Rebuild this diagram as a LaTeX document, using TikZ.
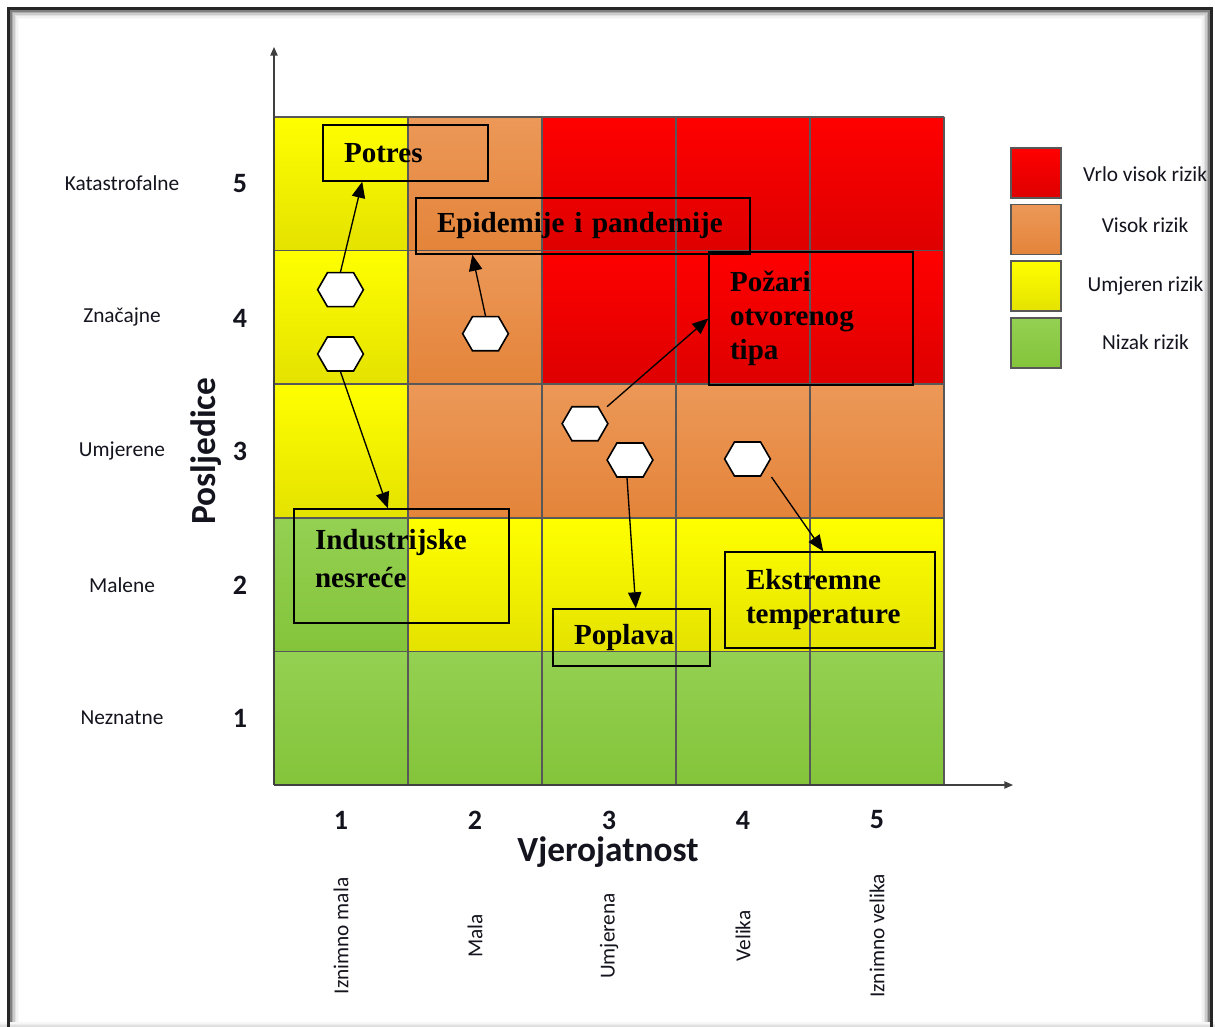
\documentclass[tikz,border=0pt]{standalone}
\usepackage{fontspec}
\setmainfont{Liberation Serif}
\newfontfamily\calibfont{Carlito}
\usetikzlibrary{arrows.meta,shapes.symbols,calc}
\definecolor{rtop}{RGB}{255,0,0}
\definecolor{rbot}{RGB}{222,0,0}
\definecolor{otop}{RGB}{236,152,88}
\definecolor{obot}{RGB}{228,132,58}
\definecolor{ytop}{RGB}{255,255,0}
\definecolor{ybot}{RGB}{228,226,0}
\definecolor{gtop}{RGB}{148,208,82}
\definecolor{gbot}{RGB}{132,196,58}
\definecolor{gridc}{RGB}{88,88,88}
\definecolor{axisc}{RGB}{64,64,64}
\definecolor{labc}{RGB}{20,20,30}
\begin{document}
\begin{tikzpicture}[x=0.75pt,y=-0.75pt,
  cellR/.style={top color=rtop,bottom color=rbot},
  cellO/.style={top color=otop,bottom color=obot},
  cellY/.style={top color=ytop,bottom color=ybot},
  cellG/.style={top color=gtop,bottom color=gbot},
  gridline/.style={draw=gridc,line width=1.1pt},
  axisline/.style={draw=axisc,line width=1pt,-{Triangle[length=6.5pt,width=5.5pt]}},
  lab/.style={font=\calibfont\fontsize{16}{19}\selectfont,text=labc,inner sep=0pt},
  num/.style={font=\calibfont\bfseries\fontsize{21}{24}\selectfont,text=labc,inner sep=0pt},
  axtitle/.style={font=\calibfont\bfseries\fontsize{26.5}{30}\selectfont,text=labc,inner sep=0pt},
  tbox/.style={draw=black,line width=1.1pt,align=left,inner xsep=15.75pt,inner ysep=0pt,
    font=\bfseries\fontsize{21.8}{25.5}\selectfont},
  hexa/.style={signal,signal to=east and west,signal pointer angle=120,draw=black,fill=white,
    line width=1.2pt,minimum width=34.3pt,minimum height=25.5pt,inner sep=0pt},
  arr/.style={draw=black,line width=1pt,-{Triangle[length=12pt,width=10pt]}},
  legbox/.style={draw=gridc,line width=1.1pt,minimum size=37.5pt,inner sep=0pt},
  frameline/.style={line width=1.2pt}
]
\useasboundingbox (0,0) rectangle (1215,1027);
\clip (0,0) rectangle (1215,1027);
\fill[white] (0,0) rectangle (1215,1027);

% frame with inner shadow
\foreach \d/\s in {11/50,12.5/32,14/20,15.5/11,17/5,18.5/2}{
  \draw[black!\s,frameline] (\d,1040) -- (\d,\d) -- (1220-\d,\d) -- (1220-\d,1040);
}
\foreach \d/\s in {1/12,2.5/7,4/3}{
  \draw[black!\s,frameline] (0,1027-\d) -- (1215,1027-\d);
}
\draw[black!85,line width=2.4pt] (8.8,1040) -- (8.8,8.8) -- (1211.5,8.8) -- (1211.5,1040);

% cells
\foreach \rowcols [count=\r from 0] in {{Y,O,R,R,R},{Y,O,R,R,R},{Y,O,O,O,O},{G,Y,Y,Y,Y},{G,G,G,G,G}}{
  \foreach \cc [count=\k from 0] in \rowcols {
    \path[cell\cc] (274+134*\k,117+133.6*\r) rectangle ++(134,133.6);
  }
}
\foreach \k in {0,...,5} \draw[gridline] (274+134*\k,117) -- (274+134*\k,785);
\foreach \r in {0,...,5} \draw[gridline] (274,117+133.6*\r) -- (944,117+133.6*\r);

% axes
\coordinate (O) at (274,785);
\coordinate (ytip) at (274,47);
\coordinate (xtip) at (1013,785);
\draw[axisline] (O) -- (ytip);
\draw[axisline] (O) -- (xtip);

% row labels
\node[lab] (l5) at (122,183) {Katastrofalne};
\node[lab] (l4) at (122,317) {Značajne};
\node[lab] (l3) at (122,451) {Umjerene};
\node[lab] (l2) at (122,585) {Malene};
\node[lab] (l1) at (122,718) {Neznatne};
\node[num] (n5) at (240,184) {5};
\node[num] (n4) at (240,318) {4};
\node[num] (n3) at (240,451) {3};
\node[num] (n2) at (240,585) {2};
\node[num] (n1) at (240,718) {1};
\node[axtitle,rotate=90] (ylab) at (206,451) {Posljedice};

% column labels
\node[num] (c1) at (341,820) {1};
\node[num] (c2) at (475,820) {2};
\node[num] (c3) at (609,820) {3};
\node[num] (c4) at (743,820) {4};
\node[num] (c5) at (877,820) {5};
\node[axtitle] (xlab) at (608,852) {Vjerojatnost};
\node[lab,rotate=90] (p1) at (341,936) {Iznimno mala};
\node[lab,rotate=90] (p2) at (475,936) {Mala};
\node[lab,rotate=90] (p3) at (609,936) {Umjerena};
\node[lab,rotate=90] (p4) at (743,936) {Velika};
\node[lab,rotate=90] (p5) at (877,936) {Iznimno velika};

% legend
\node[legbox,cellR] (kR) at (1036,173) {};
\node[legbox,cellO] (kO) at (1036,229.5) {};
\node[legbox,cellY] (kY) at (1036,286) {};
\node[legbox,cellG] (kG) at (1036,343) {};
\node[lab] (tR) at (1145,174) {Vrlo visok rizik};
\node[lab] (tO) at (1145,225) {Visok rizik};
\node[lab] (tY) at (1145.5,286) {Umjeren rizik};
\node[lab] (tG) at (1145.5,342) {Nizak rizik};

% text boxes
\node[tbox,text width=92.25pt,minimum height=42pt] (potres) at (405.5,153) {Potres};
\node[tbox,text width=219pt,minimum height=42pt] (epid) at (583,226) {Epidemije i pandemije};
\node[tbox,text width=121.5pt,minimum height=99.75pt] (pozari) at (811,318.5) {Požari\\otvorenog\\tipa};
\node[tbox,text width=129.75pt,minimum height=85.5pt,font=\bfseries\fontsize{21.8}{28.5}\selectfont] (indus) at (401.5,566) {Industrijske\\nesreće\rule[-12pt]{0pt}{1pt}};
\node[tbox,text width=126pt,minimum height=72pt] (ekstr) at (830,600) {Ekstremne\\temperature};
\node[tbox,text width=86.25pt,minimum height=42.75pt] (poplava) at (631.5,637.5) {Poplava};

% hexagons
\node[hexa] (h1) at (340.5,289.7) {};
\node[hexa] (h2) at (340.5,354) {};
\node[hexa] (h3) at (485.5,333.7) {};
\node[hexa] (h4) at (585,423.7) {};
\node[hexa] (h5) at (630,460) {};
\node[hexa] (h6) at (747.5,459) {};

% arrows
\draw[arr] (h1.north) -- ($(potres.south west)!0.24!(potres.south east)$);
\draw[arr] (h3.north) -- ($(epid.south west)!0.17!(epid.south east)$);
\draw[arr] (h2.south) -- ($(indus.north west)!0.437!(indus.north east)$);
\draw[arr] ($(h4.center)+(22,-17)$) -- (pozari.west);
\draw[arr] ($(h5.south)+(-3,0)$) -- ($(poplava.north west)!0.527!(poplava.north east)$);
\draw[arr] ($(h6.center)+(24,18)$) -- ($(ekstr.north west)!0.468!(ekstr.north east)$);
\end{tikzpicture}
\end{document}
